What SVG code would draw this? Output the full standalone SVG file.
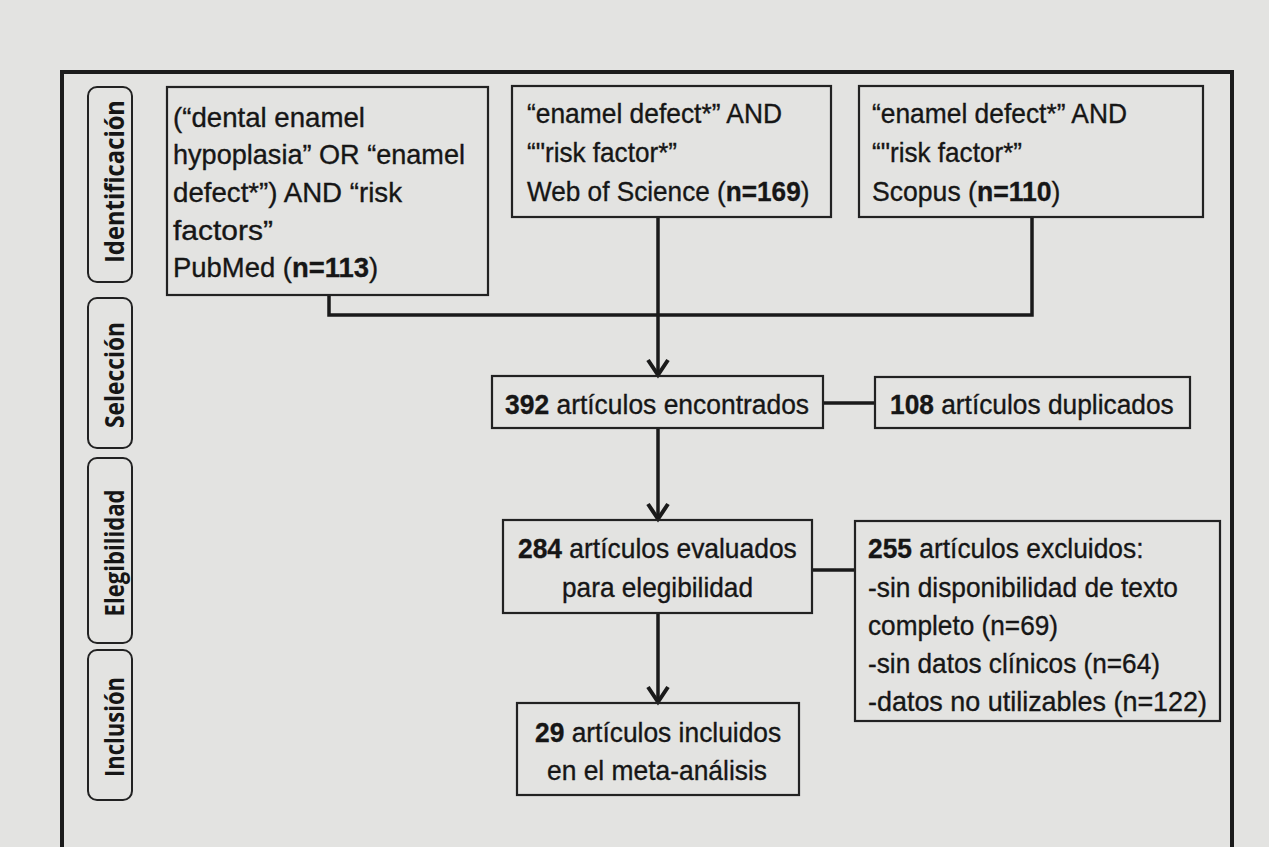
<svg xmlns="http://www.w3.org/2000/svg" width="1269" height="847" viewBox="0 0 1269 847">
<defs>
<style>
.bg{fill:#e3e3e1}
.frame{fill:none;stroke:#1c1c1c;stroke-width:4}
.box{fill:none;stroke:#222;stroke-width:2.2}
.side{fill:none;stroke:#222;stroke-width:2;}
.t{font-family:"Liberation Sans",Arial,sans-serif;font-size:28px;fill:#161616;stroke:#161616;stroke-width:0.35}
.b{font-weight:bold}
.s{font-family:"Open Sans","DejaVu Sans",sans-serif;font-weight:bold;font-size:27px;fill:#161616}
.c{fill:none;stroke:#1a1a1a;stroke-width:3.5}
</style>
<marker id="arr" markerUnits="userSpaceOnUse" markerWidth="30" markerHeight="30" viewBox="-20 -15 30 30" refX="0" refY="0" orient="auto" overflow="visible">
<path d="M-16,-10 L-1,0 L-16,10" fill="none" stroke="#1a1a1a" stroke-width="4" stroke-linejoin="miter"/>
</marker>
</defs>
<rect class="bg" x="0" y="0" width="1269" height="847"/>
<path class="frame" d="M62,850 V72 H1232 V850"/>

<g id="phase-identificacion">
<rect class="side" x="88" y="87" width="44" height="195" rx="9"/>
<text class="s" transform="translate(124,181.5) rotate(-90)" text-anchor="middle" textLength="163" lengthAdjust="spacingAndGlyphs">Identificación</text>
</g>
<g id="phase-seleccion">
<rect class="side" x="88" y="298" width="44" height="150" rx="9"/>
<text class="s" transform="translate(124,375) rotate(-90)" text-anchor="middle" textLength="106" lengthAdjust="spacingAndGlyphs">Selección</text>
</g>
<g id="phase-elegibilidad">
<rect class="side" x="88" y="458" width="44" height="185" rx="9"/>
<text class="s" transform="translate(124,553) rotate(-90)" text-anchor="middle" textLength="127" lengthAdjust="spacingAndGlyphs">Elegibilidad</text>
</g>
<g id="phase-inclusion">
<rect class="side" x="88" y="650" width="44" height="150" rx="9"/>
<text class="s" transform="translate(124,727) rotate(-90)" text-anchor="middle" textLength="100" lengthAdjust="spacingAndGlyphs">Inclusión</text>
</g>

<g id="connectors">
<path class="c" d="M329,295 V315 H1032 V217"/>
<path class="c" d="M658,217 V376" marker-end="url(#arr)"/>
<path class="c" d="M658,428 V520" marker-end="url(#arr)"/>
<path class="c" d="M658,613 V703" marker-end="url(#arr)"/>
<path class="c" d="M823,403 H875"/>
<path class="c" d="M812,570 H855"/>
</g>

<g id="pubmed">
<rect class="box" x="167" y="87" width="321" height="208"/>
<text class="t" x="173" y="127" textLength="192" lengthAdjust="spacingAndGlyphs">(“dental enamel</text>
<text class="t" x="173" y="164" textLength="292" lengthAdjust="spacingAndGlyphs">hypoplasia” OR “enamel</text>
<text class="t" x="173" y="202" textLength="229" lengthAdjust="spacingAndGlyphs">defect*”) AND “risk</text>
<text class="t" x="173" y="240" textLength="100" lengthAdjust="spacingAndGlyphs">factors”</text>
<text class="t" transform="translate(173,277) scale(0.98,1)">PubMed (<tspan class="b">n=113</tspan>)</text>
</g>
<g id="wos">
<rect class="box" x="512" y="86" width="319" height="131"/>
<text class="t" x="527" y="123" textLength="255" lengthAdjust="spacingAndGlyphs">“enamel defect*” AND</text>
<text class="t" x="527" y="162" textLength="150" lengthAdjust="spacingAndGlyphs">“"risk factor*”</text>
<text class="t" transform="translate(527,201) scale(0.935,1)">Web of Science (<tspan class="b">n=169</tspan>)</text>
</g>
<g id="scopus">
<rect class="box" x="859" y="86" width="344" height="131"/>
<text class="t" x="872" y="123" textLength="255" lengthAdjust="spacingAndGlyphs">“enamel defect*” AND</text>
<text class="t" x="872" y="162" textLength="150" lengthAdjust="spacingAndGlyphs">“"risk factor*”</text>
<text class="t" transform="translate(872,201) scale(0.95,1)">Scopus (<tspan class="b">n=110</tspan>)</text>
</g>
<g id="encontrados">
<rect class="box" x="492" y="376" width="331" height="52"/>
<text class="t" transform="translate(505,414) scale(0.944,1)"><tspan class="b">392</tspan> artículos encontrados</text>
</g>
<g id="duplicados">
<rect class="box" x="875" y="377" width="315" height="51"/>
<text class="t" transform="translate(890,414) scale(0.94,1)"><tspan class="b">108</tspan> artículos duplicados</text>
</g>
<g id="evaluados">
<rect class="box" x="503" y="520" width="309" height="93"/>
<text class="t" transform="translate(518,558) scale(0.943,1)"><tspan class="b">284</tspan> artículos evaluados</text>
<text class="t" x="562" y="597" textLength="191" lengthAdjust="spacingAndGlyphs">para elegibilidad</text>
</g>
<g id="excluidos">
<rect class="box" x="855" y="521" width="365" height="200"/>
<text class="t" transform="translate(868,558) scale(0.942,1)"><tspan class="b">255</tspan> artículos excluidos:</text>
<text class="t" x="868" y="597" textLength="310" lengthAdjust="spacingAndGlyphs">-sin disponibilidad de texto</text>
<text class="t" x="868" y="635" textLength="190" lengthAdjust="spacingAndGlyphs">completo (n=69)</text>
<text class="t" x="868" y="673" textLength="292" lengthAdjust="spacingAndGlyphs">-sin datos clínicos (n=64)</text>
<text class="t" x="868" y="711" textLength="339" lengthAdjust="spacingAndGlyphs">-datos no utilizables (n=122)</text>
</g>
<g id="incluidos">
<rect class="box" x="517" y="703" width="282" height="92"/>
<text class="t" transform="translate(535,742) scale(0.942,1)"><tspan class="b">29</tspan> artículos incluidos</text>
<text class="t" x="547" y="780" textLength="220" lengthAdjust="spacingAndGlyphs">en el meta-análisis</text>
</g>
</svg>
